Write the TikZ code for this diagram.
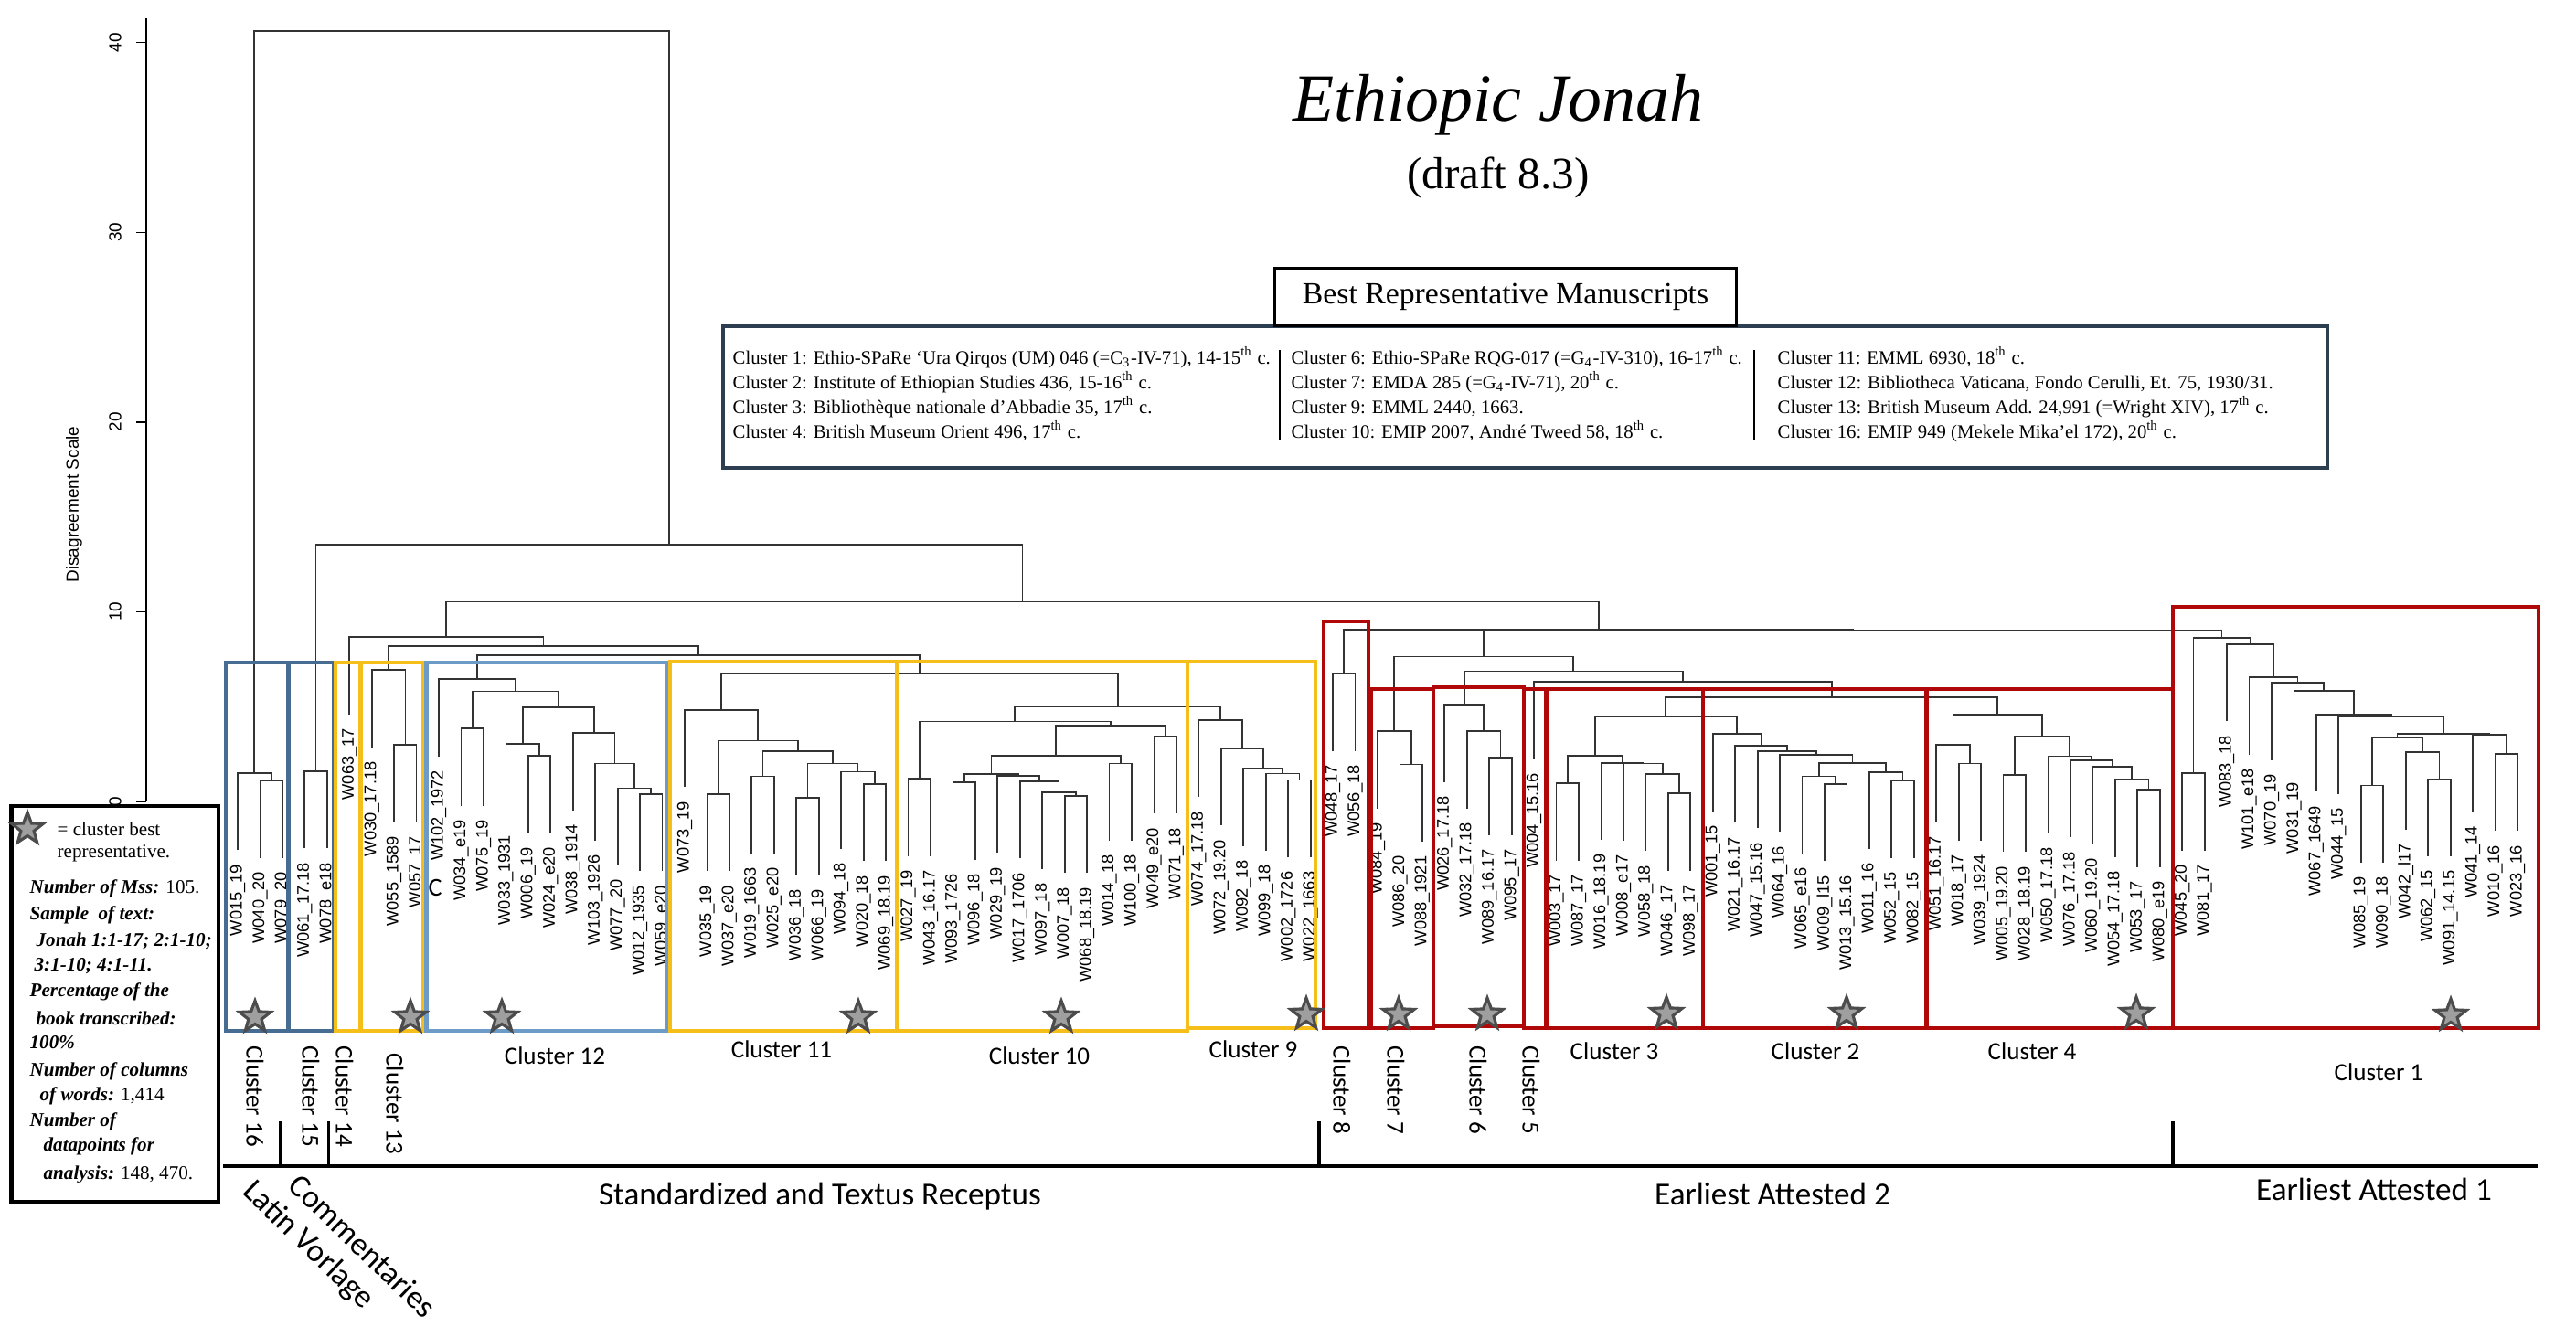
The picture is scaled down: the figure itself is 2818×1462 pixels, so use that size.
\documentclass[tikz,border=0pt]{standalone}
\usepackage{fontspec}
\setmainfont{Liberation Serif}
\newfontfamily\sansleaf{Liberation Sans}
\newfontfamily\calib{Carlito}
\usetikzlibrary{calc, shapes.geometric}

\definecolor{boxred}{RGB}{176,8,8}
\definecolor{boxgold}{RGB}{246,190,24}
\definecolor{boxnavy}{RGB}{70,108,145}
\definecolor{boxsky}{RGB}{108,155,200}
\definecolor{legframe}{RGB}{45,62,80}

\newcommand{\hang}{4.07}
% join two subtrees at a given height
\newcommand{\mrg}[4]{%
  \coordinate (hh) at (0,#4);
  \coordinate (#1) at ($(#2 |- hh)!.5!(#3 |- hh)$);
  \draw[branch] (#2) |- (#1) -| (#3);
}

\begin{document}
\begin{tikzpicture}[
        x=0.1mm, y=-0.1mm,
        branch/.style={draw=black!80, line width=0.5pt},
        leaf/.style={
            rotate=90,
            anchor=east,
            inner sep=0pt,
            font=\sansleaf\fontsize{5.2}{6}\selectfont
        },
        redbox/.style={draw=boxred, line width=1.2pt},
        goldbox/.style={draw=boxgold, line width=1.2pt},
        navybox/.style={draw=boxnavy, line width=1.2pt},
        skybox/.style={draw=boxsky, line width=1.2pt},
        beststar/.style={
            star,
            star points=5,
            star point ratio=2.4,
            draw=black!70,
            fill=gray!75,
            line width=0.9pt,
            minimum size=0.36cm,
            inner sep=0pt
        },
        clhor/.style={font=\calib\fontsize{7.7}{9}\selectfont},
        clvert/.style={rotate=-90, anchor=west, font=\calib\fontsize{7.7}{9}\selectfont},
        grouplab/.style={font=\calib\fontsize{10}{12}\selectfont},
        groupline/.style={draw=black, line width=1.1pt},
        axisline/.style={draw=black, line width=0.4pt},
        ticklab/.style={rotate=90, font=\sansleaf\fontsize{5.4}{6}\selectfont},
        legtext/.style={anchor=base west, inner sep=0pt, font=\fontsize{5.9}{7}\selectfont},
        note/.style={anchor=west, inner sep=0pt, font=\fontsize{6}{7}\selectfont}
    ]
    \useasboundingbox (0,0) rectangle (2818,1462);

    % title
    \node[font=\fontsize{21}{24}\selectfont\itshape] (title) at (1639,115) {Ethiopic Jonah};
    \node[font=\fontsize{14}{16}\selectfont] (draft) at (1639,194) {(draft 8.3)};

    % vertical scale
    \begin{scope}[shift={(160,877)}, y=0.2076cm]
        \draw[axisline] (0,0) -- (0,41.3);
        \foreach \v in {0,10,...,40} {
            \draw[axisline] (0,\v) -- (-11,\v);
            \node[ticklab] (tick\v) at (-34,\v) {\v};
        }
    \end{scope}
    \node[ticklab] (scale) at (81,552) {Disagreement Scale};

    % dendrogram
    \begin{scope}[shift={(260,877)}, x=0.2445cm, y=0.2076cm]
        \foreach \i/\nm/\lbl/\ph in {
            0/w015/W015\_19/1.5, 1/w040/W040\_20/1.1, 2/w079/W079\_20/1.1,
            3/w061/W061\_17.18/1.6, 4/w078/W078\_e18/1.6,
            5/w063/W063\_17/8.67,
            6/w030/W030\_17.18/6.92, 7/w055/W055\_1589/3.0, 8/w057/W057\_17/3.0,
            9/w102/W102\_1972/6.45, 10/w034/W034\_e19/3.85, 11/w075/W075\_19/3.85,
            12/w033/W033\_1931/3.05, 13/w006/W006\_19/2.4, 14/w024/W024\_e20/2.4,
            15/w038/W038\_1914/3.6, 16/w103/W103\_1926/2.0, 17/w077/W077\_20/0.7,
            18/w012/W012\_1935/0.4, 19/w059/W059\_e20/0.4,
            20/w073/W073\_19/4.83, 21/w035/W035\_19/0.4, 22/w037/W037\_e20/0.4,
            23/w019/W019\_1663/1.33, 24/w025/W025\_e20/1.33, 25/w036/W036\_18/0.2,
            26/w066/W066\_19/0.2, 27/w094/W094\_18/1.57, 28/w020/W020\_18/0.93,
            29/w069/W069\_18.19/0.93,
            30/w027/W027\_19/1.19, 31/w043/W043\_16.17/1.19, 32/w093/W093\_1726/1.0,
            33/w096/W096\_18/1.0, 34/w029/W029\_19/1.35, 35/w017/W017\_1706/1.07,
            36/w097/W097\_18/0.5, 37/w007/W007\_18/0.3, 38/w068/W068\_18.19/0.3,
            39/w014/W014\_18/2.0, 40/w100/W100\_18/2.0, 41/w049/W049\_e20/3.43,
            42/w071/W071\_18/3.43,
            43/w074/W074\_17.18/4.3, 44/w072/W072\_19.20/2.8, 45/w092/W092\_18/1.72,
            46/w099/W099\_18/1.47, 47/w002/W002\_1726/1.13, 48/w022/W022\_1663/1.13,
            49/w048/W048\_17/6.74, 50/w056/W056\_18/6.74,
            51/w084/W084\_19/3.7, 52/w086/W086\_20/1.95, 53/w088/W088\_1921/1.95,
            54/w026/W026\_17.18/5.1, 55/w032/W032\_17.18/3.7, 56/w089/W089\_16.17/2.3,
            57/w095/W095\_17/2.3,
            58/w004/W004\_15.16/6.32,
            59/w003/W003\_17/0.95, 60/w087/W087\_17/0.95, 61/w016/W016\_18.19/2.04,
            62/w008/W008\_e17/2.0, 63/w058/W058\_18/1.46, 64/w046/W046\_17/0.42,
            65/w098/W098\_17/0.42,
            66/w001/W001\_15/3.55, 67/w021/W021\_16.17/2.95, 68/w047/W047\_15.16/2.65,
            69/w064/W064\_16/2.46, 70/w065/W065\_e16/1.32, 71/w009/W009\_l15/0.92,
            72/w013/W013\_15.16/0.92, 73/w011/W011\_16/1.56, 74/w052/W052\_15/1.09,
            75/w082/W082\_15/1.09,
            76/w051/W051\_16.17/3.0, 77/w018/W018\_17/2.0, 78/w039/W039\_1924/2.0,
            79/w005/W005\_19.20/1.41, 80/w028/W028\_18.19/1.41, 81/w050/W050\_17.18/2.39,
            82/w076/W076\_17.18/2.17, 83/w060/W060\_19.20/1.83, 84/w054/W054\_17.18/1.14,
            85/w053/W053\_17/0.61, 86/w080/W080\_e19/0.61,
            87/w045/W045\_20/1.49, 88/w081/W081\_17/1.49, 89/w083/W083\_18/8.3,
            90/w101/W101\_e18/6.55, 91/w070/W070\_19/6.26, 92/w031/W031\_19/5.83,
            93/w067/W067\_1649/4.59, 94/w044/W044\_15/4.48, 95/w085/W085\_19/0.84,
            96/w090/W090\_18/0.84, 97/w042/W042\_l17/2.6, 98/w062/W062\_15/1.18,
            99/w091/W091\_14.15/1.18, 100/w041/W041\_14/3.5, 101/w010/W010\_16/2.52,
            102/w023/W023\_16/2.52} {
            \coordinate (\nm) at (\i,\ph-\hang);
            \node[leaf] (t\nm) at (\i,\ph-\hang-0.72) {\lbl};
        }

        \foreach \nm/\a/\b/\h in {
            c16a/w040/w079/1.1, c16/w015/c16a/1.5,
            c15/w061/w078/1.6,
            c13a/w055/w057/3.0, c13/w030/c13a/6.92,
            c12a/w012/w059/0.4, c12b/w077/c12a/0.7, c12c/w103/c12b/2.0,
            c12d/w038/c12c/3.6, c12e/w006/w024/2.4, c12f/w033/c12e/3.05,
            c12g/c12f/c12d/4.95, c12h/w034/w075/3.85, c12i/c12h/c12g/5.8,
            c12/w102/c12i/6.45,
            c11a/w035/w037/0.4, c11b/w019/w025/1.33, c11c/w036/w066/0.2,
            c11d/w020/w069/0.93, c11e/w094/c11d/1.57, c11f/c11c/c11e/2.0,
            c11g/c11b/c11f/2.65, c11h/c11a/c11g/3.2, c11/w073/c11h/4.83,
            c10a/w027/w043/1.19, c10b/w093/w096/1.0, c10c/w007/w068/0.3,
            c10d/w097/c10c/0.5, c10e/w017/c10d/1.07, c10f/w029/c10e/1.35,
            c10g/c10b/c10f/1.46, c10h/w014/w100/2.0, c10i/c10g/c10h/2.42,
            c10j/w049/w071/3.43, c10k/c10i/c10j/4.0, c10/c10a/c10k/4.22,
            c9a/w002/w022/1.13, c9b/w099/c9a/1.47, c9c/w092/c9b/1.72,
            c9d/w072/c9c/2.8, c9/w074/c9d/4.3,
            n910/c10/c9/5.0, n1011/c11/n910/6.76, n1012/c12/n1011/7.72,
            n1013/c13/n1012/8.2, n1014/w063/n1013/8.67,
            c8/w048/w056/6.74,
            c7a/w086/w088/1.95, c7/w084/c7a/3.7,
            c6a/w089/w095/2.3, c6b/w032/c6a/3.7, c6/w026/c6b/5.1,
            c3a/w003/w087/0.95, c3b/w046/w098/0.42, c3c/w058/c3b/1.46,
            c3d/w008/c3c/2.0, c3e/w016/c3d/2.04, c3/c3a/c3e/2.42,
            c2a/w009/w013/0.92, c2b/w065/c2a/1.32, c2c/w052/w082/1.09,
            c2d/w011/c2c/1.56, c2e/c2b/c2d/2.04, c2f/w064/c2e/2.46,
            c2g/w047/c2f/2.65, c2h/w021/c2g/2.95, c2/w001/c2h/3.55,
            n32/c3/c2/4.46,
            c4a/w018/w039/2.0, c4b/w051/c4a/3.0, c4c/w005/w028/1.41,
            c4d/w053/w080/0.61, c4e/w054/c4d/1.14, c4f/w060/c4e/1.83,
            c4g/w076/c4f/2.17, c4h/w050/c4g/2.39, c4i/c4c/c4h/3.42,
            c4/c4b/c4i/4.56,
            n324/n32/c4/5.48, n5/w004/n324/6.32, n6/c6/n5/6.86, n7/c7/n6/7.63,
            c1a/w045/w081/1.49, c1b/w062/w091/1.18, c1c/w042/c1b/2.6,
            c1d/w085/w090/0.84, c1e/c1d/c1c/3.38, c1f/w010/w023/2.52,
            c1g/w041/c1f/3.5, c1h/c1e/c1g/3.56, c1i/w044/c1h/4.48,
            c1j/w067/c1i/4.59, c1k/w031/c1j/5.83, c1l/w070/c1k/6.26,
            c1m/w101/c1l/6.55, c1n/w083/c1m/8.3, c1/c1a/c1n/8.63,
            nq/n7/c1/9.0, np/c8/nq/9.05, nr/n1014/np/10.53,
            ns/c15/nr/13.53, root/c16/ns/40.6} {
            \mrg{\nm}{\a}{\b}{\h}
        }
    \end{scope}
    \node[font=\calib\fontsize{8}{9}\selectfont] (strayc) at (476,971) {C};

    % cluster boxes
    \draw[navybox] (247,725) rectangle (315.5,1128);
    \draw[navybox] (315.5,725) rectangle (365,1128);
    \draw[goldbox] (367,725) rectangle (394.5,1128);
    \draw[goldbox] (394.5,725) rectangle (463,1128);
    \draw[skybox] (466.5,725) rectangle (730.5,1128);
    \draw[goldbox] (733,724) rectangle (981.5,1128);
    \draw[goldbox] (981.5,724) rectangle (1299,1128);
    \draw[goldbox] (1299,724) rectangle (1439,1125);
    \draw[redbox] (1448,680) rectangle (1497,1125);
    \draw[redbox] (1500,754) rectangle (1568,1125);
    \draw[redbox] (1568,752) rectangle (1667,1123);
    \draw[redbox] (1667,754) rectangle (1691,1125);
    \draw[redbox] (1691.5,754) rectangle (1863,1125);
    \draw[redbox] (1863,754) rectangle (2107.5,1125);
    \draw[redbox] (2107.5,754) rectangle (2377,1125);
    \draw[redbox] (2377,664) rectangle (2777,1125);

    % best representatives
    \foreach \sx/\sy/\sn in {279/1113/16, 449/1113/13, 549/1113/12, 939/1113/11,
        1161/1113/10, 1429/1110/9, 1530/1110/7, 1627/1110/6, 1823/1109/3,
        2020/1109/2, 2337/1109/4, 2681/1111/1} {
        \node[beststar] (s\sn) at (\sx,\sy) {};
    }

    % cluster names
    \node[clvert] (cl16) at (279,1132) {Cluster 16};
    \node[clvert] (cl15) at (340,1132) {Cluster 15};
    \node[clvert] (cl14) at (377,1132) {Cluster 14};
    \node[clvert] (cl13) at (432,1140) {Cluster 13};
    \node[clhor] (cl12) at (607,1155) {Cluster 12};
    \node[clhor] (cl11) at (855,1148) {Cluster 11};
    \node[clhor] (cl10) at (1137,1155) {Cluster 10};
    \node[clhor] (cl9) at (1371,1148) {Cluster 9};
    \node[clvert] (cl8) at (1468,1132) {Cluster 8};
    \node[clvert] (cl7) at (1527,1132) {Cluster 7};
    \node[clvert] (cl6) at (1617,1132) {Cluster 6};
    \node[clvert] (cl5) at (1675,1132) {Cluster 5};
    \node[clhor] (cl3) at (1766,1150) {Cluster 3};
    \node[clhor] (cl2) at (1986,1150) {Cluster 2};
    \node[clhor] (cl4) at (2223,1150) {Cluster 4};
    \node[clhor] (cl1) at (2602,1173) {Cluster 1};

    % text groups
    \draw[groupline] (244,1276) -- (2776,1276);
    \foreach \gx in {306.5,359.5,1443,2377}
        \draw[groupline] (\gx,1227) -- (\gx,1276);
    \node[grouplab, rotate=-44] (latin) at (337,1363) {Latin Vorlage};
    \node[grouplab, rotate=-44] (comm) at (397,1363) {Commentaries};
    \node[grouplab] (std) at (897,1309) {Standardized and Textus Receptus};
    \node[grouplab] (ea2) at (1939,1306) {Earliest Attested 2};
    \node[grouplab] (ea1) at (2597,1301) {Earliest Attested 1};

    % best representative manuscripts
    \draw[draw=legframe, line width=0.9pt] (791,357) rectangle (2546,512);
    \node[draw, line width=0.9pt, fill=white, minimum width=5.05cm, minimum height=0.63cm,
        font=\fontsize{9.6}{11}\selectfont] (bestrep) at (1647,325) {Best Representative Manuscripts};
    \draw[line width=0.4pt] (1400,383) -- (1400,481);
    \draw[line width=0.4pt] (1919,383) -- (1919,481);
    \node[legtext] (leg1) at (801,398) {Cluster 1: Ethio-SPaRe ‘Ura Qirqos (UM) 046 (=C\textsubscript{3}-IV-71), 14-15\textsuperscript{th} c.};
    \node[legtext] (leg2) at (801,425) {Cluster 2: Institute of Ethiopian Studies 436, 15-16\textsuperscript{th} c.};
    \node[legtext] (leg3) at (801,452) {Cluster 3: Bibliothèque nationale d’Abbadie 35, 17\textsuperscript{th} c.};
    \node[legtext] (leg4) at (801,479) {Cluster 4: British Museum Orient 496, 17\textsuperscript{th} c.};
    \node[legtext] (leg6) at (1412,398) {Cluster 6: Ethio-SPaRe RQG-017 (=G\textsubscript{4}-IV-310), 16-17\textsuperscript{th} c.};
    \node[legtext] (leg7) at (1412,425) {Cluster 7: EMDA 285 (=G\textsubscript{4}-IV-71), 20\textsuperscript{th} c.};
    \node[legtext] (leg9) at (1412,452) {Cluster 9: EMML 2440, 1663.};
    \node[legtext] (leg10) at (1412,479) {Cluster 10: EMIP 2007, André Tweed 58, 18\textsuperscript{th} c.};
    \node[legtext] (leg11) at (1944,398) {Cluster 11: EMML 6930, 18\textsuperscript{th} c.};
    \node[legtext] (leg12) at (1944,425) {Cluster 12: Bibliotheca Vaticana, Fondo Cerulli, Et. 75, 1930/31.};
    \node[legtext] (leg13) at (1944,452) {Cluster 13: British Museum Add. 24,991 (=Wright XIV), 17\textsuperscript{th} c.};
    \node[legtext] (leg16) at (1944,479) {Cluster 16: EMIP 949 (Mekele Mika’el 172), 20\textsuperscript{th} c.};

    % notes
    \draw[line width=1.2pt] (12.6,882) rectangle (239,1315);
    \node[beststar] (keystar) at (30,907) {};
    \foreach \xx/\yy/\txt [count=\k] in {
        62/907/{= cluster best},
        62/934/{representative.},
        32/972/{\textbf{\textit{Number of Mss:}} 105.},
        32/1001/{\textbf{\textit{Sample\ \ of text:}}},
        39/1030/{\textbf{\textit{Jonah 1:1-17; 2:1-10;}}},
        37/1057/{\textbf{\textit{3:1-10; 4:1-11.}}},
        32/1085/{\textbf{\textit{Percentage of the}}},
        39/1114/{\textbf{\textit{book transcribed:}}},
        32/1141/{\textbf{\textit{100\%}}},
        32/1172/{\textbf{\textit{Number of columns}}},
        43/1199/{\textbf{\textit{of words:}} 1,414},
        32/1227/{\textbf{\textit{Number of}}},
        47/1254/{\textbf{\textit{datapoints for}}},
        47/1285/{\textbf{\textit{analysis:}} 148, 470.}} {
        \node[note] (note\k) at (\xx,\yy) {\txt};
    }

\end{tikzpicture}
\end{document}
